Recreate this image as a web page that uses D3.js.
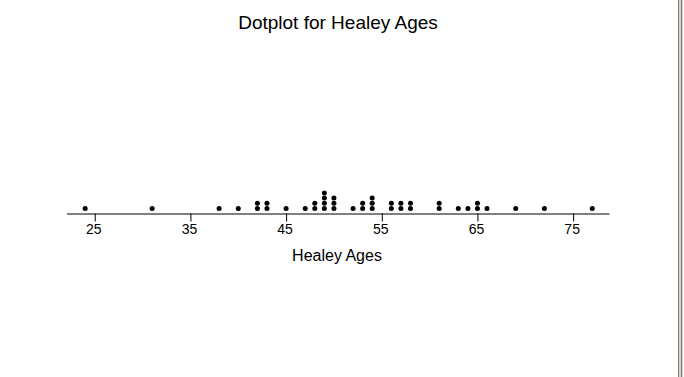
<!DOCTYPE html>
<html>
<head>
<meta charset="utf-8">
<script src="https://cdn.jsdelivr.net/npm/d3@7"></script>
<style>
    body { margin: 0; background: #fff; overflow: hidden; }
    text { font-family: "Liberation Sans", Arial, sans-serif; fill: #000; }
</style>
</head>
<body>
<div id="chart"></div>
<script>
// Healey ages, one entry per dot
var ages = [24, 31, 38, 40, 42, 42, 43, 43, 45, 47, 48, 48,
    49, 49, 49, 49, 50, 50, 50, 52, 53, 53, 54, 54, 54,
    56, 56, 57, 57, 58, 58, 61, 61, 63, 64, 65, 65, 66, 69, 72, 77];
var tickValues = [25, 35, 45, 55, 65, 75];
var title = "Dotplot for Healey Ages";
var xLabel = "Healey Ages";

/**
 * Builds the svg that holds the whole picture.
 */
function appendSVG(id) {
    return d3.select("#" + id)
        .append("svg")
        .attr("width", 684)
        .attr("height", 377);
}

function drawDotplot() {
    var svg = appendSVG("chart");
    var baseY = 213.5;

    var x = d3.scaleLinear()
        .domain([22.1, 78.75])
        .range([67, 609]);

    // stack position of each dot within its value
    var counts = {};
    var dots = ages.map(function (a) {
        counts[a] = (counts[a] || 0) + 1;
        return { age: a, level: counts[a] - 1 };
    });

    var axis = d3.axisBottom(x)
        .tickValues(tickValues)
        .tickSize(8)
        .tickPadding(3)
        .tickFormat(d3.format("d"));

    var g = svg.append("g")
        .attr("transform", "translate(0," + baseY + ")")
        .call(axis);
    g.select(".domain").attr("d", "M67,0.5H609.5").attr("stroke", "#000");
    g.selectAll(".tick line").attr("stroke", "#000");
    g.selectAll(".tick text")
        .attr("dx", "-1.5")
        .style("font-family", "'Liberation Sans Narrow', 'Liberation Sans', Arial, sans-serif")
        .style("font-size", "14px")
        .attr("fill", "#000");

    svg.selectAll("circle.dot")
        .data(dots)
        .enter()
        .append("circle")
        .attr("class", "dot")
        .attr("cx", function (d) { return x(d.age); })
        .attr("cy", function (d) { return 208.5 - d.level * 5.2; })
        .attr("r", 2.5)
        .attr("fill", "#000");

    svg.append("text")
        .attr("x", 338)
        .attr("y", 28.5)
        .style("text-anchor", "middle")
        .style("font-size", "19px")
        .text(title);

    svg.append("text")
        .attr("x", 337)
        .attr("y", 261)
        .style("text-anchor", "middle")
        .style("font-size", "16px")
        .text(xLabel);

    // window frame at the right edge
    svg.append("rect").attr("x", 678).attr("y", 0).attr("width", 5).attr("height", 377).attr("fill", "#d4d0c8");
    svg.append("rect").attr("x", 678).attr("y", 0).attr("width", 1).attr("height", 377).attr("fill", "#808080");
    svg.append("rect").attr("x", 681).attr("y", 0).attr("width", 1).attr("height", 377).attr("fill", "#808080");
}

drawDotplot();
</script>
</body>
</html>
